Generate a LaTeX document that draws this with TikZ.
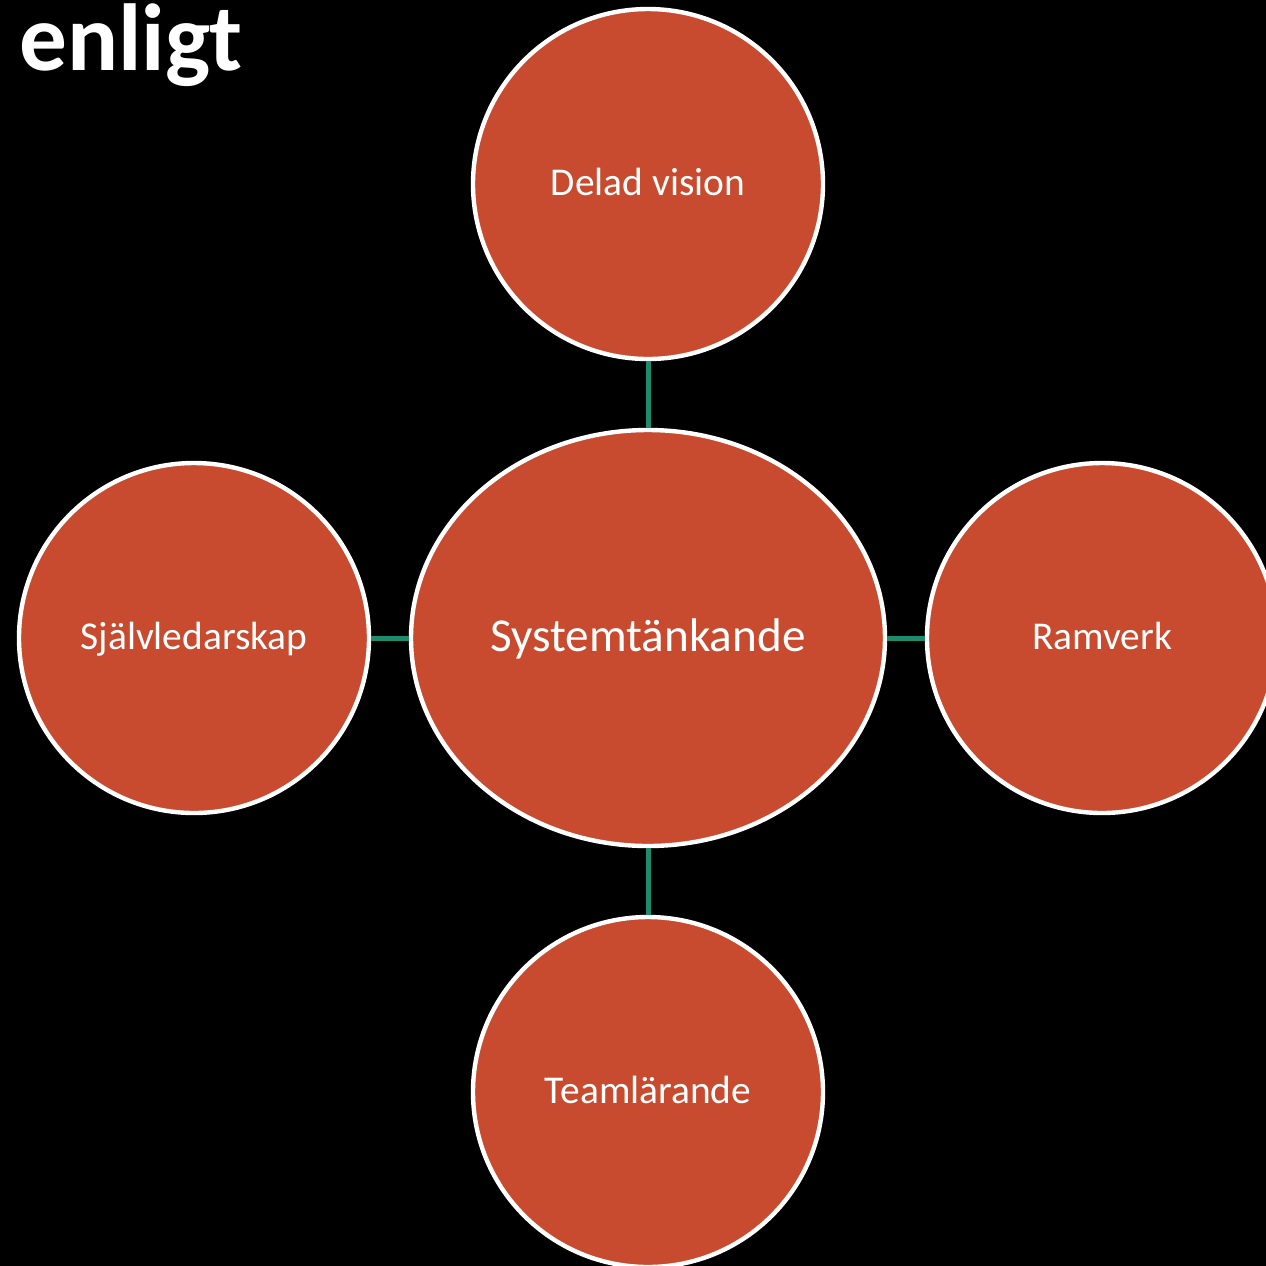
\documentclass[tikz,border=0pt]{standalone}
\usepackage{fontspec}
\setmainfont{Carlito}
\usepackage{tikz}
\usetikzlibrary{shapes.geometric, positioning}

\definecolor{rust}{HTML}{C84B2F}
\definecolor{teal}{HTML}{1E8B6C}

\begin{document}
\begin{tikzpicture}[x=0.5pt, y=-0.5pt, node distance=227pt,
            bubble/.style={draw=white, line width=2.2pt, circle, fill=rust, text=white, minimum size=175pt, inner sep=0pt, text height=11.5pt, text depth=0pt, font=\fontsize{19.7}{24}\selectfont},
            hub/.style={draw=white, line width=2.2pt, ellipse, fill=rust, text=white, minimum width=237pt, minimum height=208pt, inner sep=0pt, text height=13.5pt, text depth=0pt, font=\fontsize{23.6}{28}\selectfont},
            link/.style={draw=teal, line width=2.5pt}]

            % background and frame
            \fill[black] (0,0) rectangle (1266,1266);
            \useasboundingbox (0,0) rectangle (1266,1266);
            \begin{scope}
            \clip (0,0) rectangle (1266,1266);

            \node[anchor=base west, inner sep=0pt, text=white, font=\bfseries\fontsize{47.6}{56}\selectfont] (title) at (19,70) {enligt};

            \node[hub] (system) at (648,638) {Systemtänkande};
            \node[bubble, above of=system] (vision) {Delad vision};
            \node[bubble, left of=system] (self) {Självledarskap};
            \node[bubble, right of=system] (frame) {Ramverk};
            \node[bubble, below of=system] (team) {Teamlärande};

            \draw[link] (system) -- (vision);
            \draw[link] (system) -- (self);
            \draw[link] (system) -- (frame);
            \draw[link] (system) -- (team);
            \end{scope}
        \end{tikzpicture}
\end{document}
